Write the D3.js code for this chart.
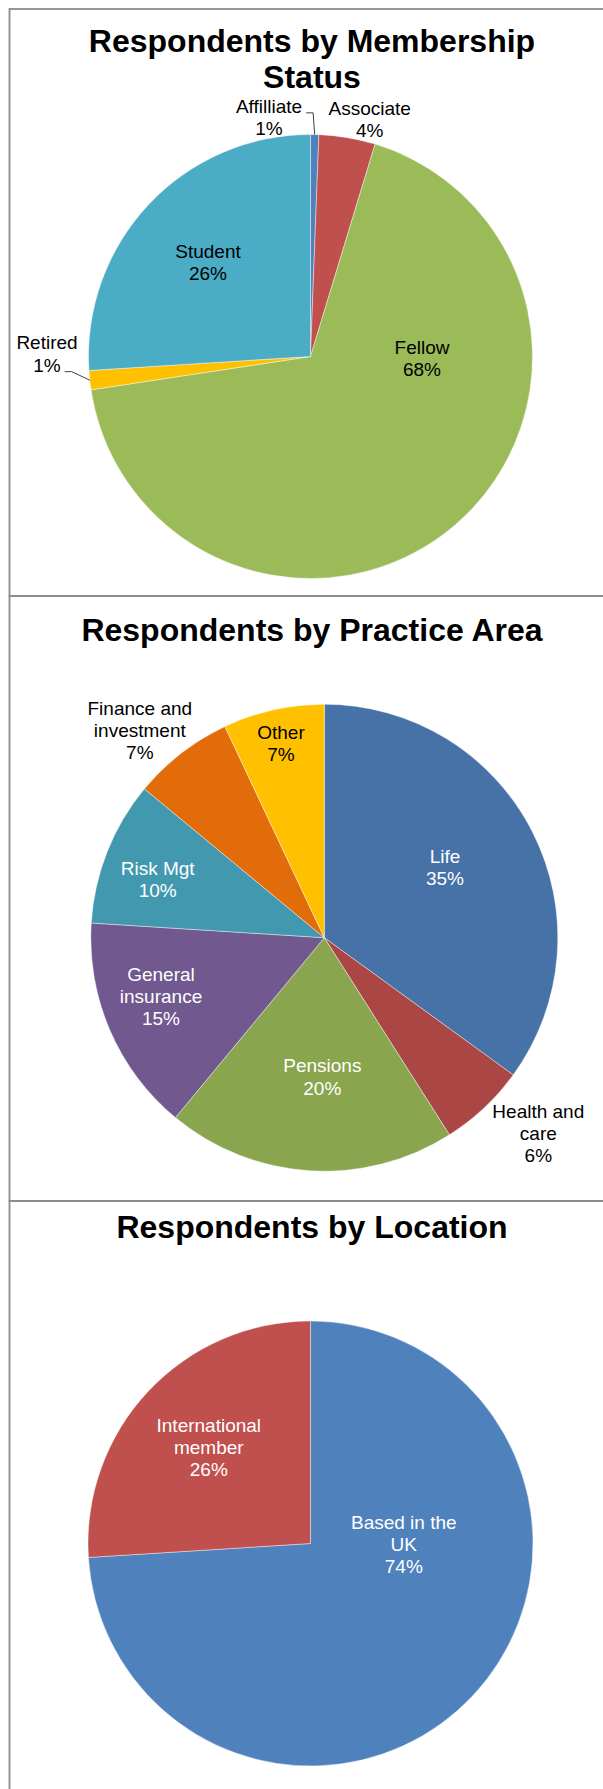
<!DOCTYPE html>
<html>
<head>
<meta charset="utf-8">
<script src="https://cdn.jsdelivr.net/npm/d3@7"></script>
<style>
  html, body { margin: 0; padding: 0; background: #ffffff; }
  svg { display: block; }
  text { font-family: "Liberation Sans", Arial, sans-serif; }
</style>
</head>
<body>
<svg id="chart" width="603" height="1789"></svg>
<script>
// ---- Data ----
const membershipCategories = ["Affilliate", "Associate", "Fellow", "Retired", "Student"];
const membershipValues = [0.6, 4.1, 67.9, 1.4, 26.0];
const membershipColors = ["#4F81BD", "#C0504D", "#9BBB59", "#FFC000", "#4BACC6"];

const practiceCategories = ["Life", "Health and\ncare", "Pensions", "General\ninsurance", "Risk Mgt", "Finance and\ninvestment", "Other"];
const practiceValues = [35, 6, 20, 15, 10, 7, 7];
const practiceColors = ["#4672A8", "#AA4643", "#89A54E", "#71588F", "#4198AF", "#E36C0A", "#FFC000"];

const locationCategories = ["Based in the\nUK", "International\nmember"];
const locationValues = [74, 26];
const locationColors = ["#4F81BD", "#C0504D"];

// ---- Layout ----
// label block offsets (centre x, mean baseline y) relative to each pie centre
const membershipLabelOffsets = [[-41.5, -232.5], [59.2, -230.7], [111.5, 8.4], [-263.5, 4], [-102.5, -87.7]];
const membershipLabelFill = ["#000", "#000", "#000", "#000", "#000"];
const practiceLabelOffsets = [[120.7, -63.5], [214, 202.5], [-2, 145.9], [-163.3, 65.3], [-166.6, -51.9], [-184.5, -200.7], [-43.3, -187.7]];
const practiceLabelFill = ["#fff", "#000", "#fff", "#fff", "#fff", "#000", "#000"];
const locationLabelOffsets = [[93.3, 7.5], [-101.7, -89.6]];
const locationLabelFill = ["#fff", "#fff"];

const panels = [
  { top: 9, bottom: 596, title: ["Respondents by Membership", "Status"], titleY: 52,
    cx: 310.5, cy: 356.5, r: 222,
    cats: membershipCategories, vals: membershipValues, colors: membershipColors,
    offsets: membershipLabelOffsets, fills: membershipLabelFill,
    leaders: [{ index: 0, line: 0 }, { index: 3, line: 1 }] },
  { top: 596, bottom: 1201, title: ["Respondents by Practice Area"], titleY: 640.5,
    cx: 324.3, cy: 937.7, r: 233.5,
    cats: practiceCategories, vals: practiceValues, colors: practiceColors,
    offsets: practiceLabelOffsets, fills: practiceLabelFill, leaders: [] },
  { top: 1201, bottom: 1800, title: ["Respondents by Location"], titleY: 1238,
    cx: 310.5, cy: 1543.5, r: 222.5,
    cats: locationCategories, vals: locationValues, colors: locationColors,
    offsets: locationLabelOffsets, fills: locationLabelFill, leaders: [] }
];

const svg = d3.select("#chart");
const titleX = 312;
const titleSize = 32, titleLine = 35.7;
const labelSize = 19, labelLine = 22.3;

panels.forEach(p => {
  // panel frame (right edge runs past the page)
  svg.append("rect")
    .attr("x", 9.5).attr("y", p.top)
    .attr("width", 640).attr("height", p.bottom - p.top)
    .attr("fill", "none").attr("stroke", "#8c8c8c").attr("stroke-width", 1.8);

  // title
  const t = svg.append("text")
    .attr("text-anchor", "middle")
    .attr("font-weight", "bold")
    .attr("font-size", titleSize)
    .attr("fill", "#000");
  p.title.forEach((line, i) => {
    t.append("tspan").attr("x", titleX).attr("y", p.titleY + i * titleLine).text(line);
  });

  const total = d3.sum(p.vals);
  const pie = d3.pie().sort(null).value(d => d).startAngle(0).endAngle(2 * Math.PI);
  const arcs = pie(p.vals);
  const arc = d3.arc().innerRadius(0).outerRadius(p.r);

  const g = svg.append("g").attr("transform", `translate(${p.cx},${p.cy})`);
  g.selectAll("path.slice")
    .data(arcs)
    .join("path")
    .attr("class", "slice")
    .attr("d", arc)
    .attr("fill", (d, i) => p.colors[i])
    .attr("stroke", "#ffffff")
    .attr("stroke-opacity", 0.6)
    .attr("stroke-width", 0.7);

  // data labels
  const labelNodes = [];
  arcs.forEach((d, i) => {
    const lines = p.cats[i].split("\n").concat([Math.round(d.value / total * 100) + "%"]);
    const [ox, oy] = p.offsets[i];
    const txt = g.append("text")
      .attr("text-anchor", "middle")
      .attr("font-size", labelSize)
      .attr("fill", p.fills[i]);
    const spans = lines.map((line, k) =>
      txt.append("tspan")
        .attr("x", ox)
        .attr("y", oy + (k - (lines.length - 1) / 2) * labelLine)
        .text(line));
    labelNodes[i] = { ox, oy, spans, n: lines.length };
  });

  // leader lines for small slices
  p.leaders.forEach(l => {
    const d = arcs[l.index];
    const mid = (d.startAngle + d.endAngle) / 2;
    const end = [p.r * Math.sin(mid), -p.r * Math.cos(mid)];
    const lab = labelNodes[l.index];
    const span = lab.spans[l.line];
    const w = span.node().getComputedTextLength();
    const y = lab.oy + (l.line - (lab.n - 1) / 2) * labelLine;
    const sx = lab.ox + w / 2 + 4;
    const pts = [[sx, y], [Math.max(sx + 7, Math.min(end[0], sx + 7)), y], end];
    g.append("path")
      .attr("d", d3.line()(pts))
      .attr("fill", "none")
      .attr("stroke", "#404040")
      .attr("stroke-width", 1);
  });
});
</script>
</body>
</html>
